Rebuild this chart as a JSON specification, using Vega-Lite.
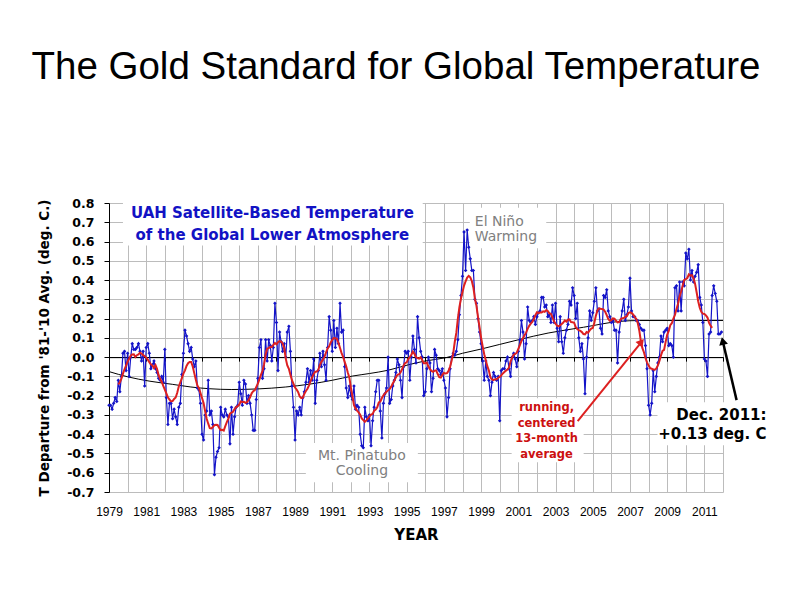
{
  "$schema": "https://vega.github.io/schema/vega-lite/v6.json",
  "width": 614,
  "height": 289,
  "autosize": "none",
  "padding": {"left": 109, "top": 203, "right": 71, "bottom": 103},
  "background": "white",
  "title": {"text": "The Gold Standard for Global Temperature", "font": "Liberation Sans", "fontSize": 38.5, "fontWeight": "normal", "color": "black", "anchor": "middle", "frame": "group", "offset": 110, "dx": -20},
  "config": {"view": {"stroke": null}},
  "datasets": {
    "uah": [
      {"t":1979,"v":-0.25},{"t":1979.083,"v":-0.25},{"t":1979.167,"v":-0.27},{"t":1979.25,"v":-0.24},{"t":1979.333,"v":-0.21},{"t":1979.417,"v":-0.23},{"t":1979.5,"v":-0.12},{"t":1979.583,"v":-0.18},{"t":1979.667,"v":-0.10},{"t":1979.75,"v":0.02},{"t":1979.833,"v":0.03},{"t":1979.917,"v":-0.07},
      {"t":1980,"v":0.02},{"t":1980.083,"v":-0.10},{"t":1980.167,"v":0.00},{"t":1980.25,"v":0.07},{"t":1980.333,"v":0.04},{"t":1980.417,"v":0.04},{"t":1980.5,"v":0.05},{"t":1980.583,"v":0.07},{"t":1980.667,"v":0.03},{"t":1980.75,"v":-0.02},{"t":1980.833,"v":0.03},{"t":1980.917,"v":-0.15},
      {"t":1981,"v":0.05},{"t":1981.083,"v":0.07},{"t":1981.167,"v":0.02},{"t":1981.25,"v":-0.06},{"t":1981.333,"v":-0.04},{"t":1981.417,"v":-0.02},{"t":1981.5,"v":-0.06},{"t":1981.583,"v":-0.08},{"t":1981.667,"v":-0.11},{"t":1981.75,"v":-0.12},{"t":1981.833,"v":-0.10},{"t":1981.917,"v":-0.13},
      {"t":1982,"v":0.04},{"t":1982.083,"v":-0.21},{"t":1982.167,"v":-0.35},{"t":1982.25,"v":-0.24},{"t":1982.333,"v":-0.24},{"t":1982.417,"v":-0.32},{"t":1982.5,"v":-0.27},{"t":1982.583,"v":-0.31},{"t":1982.667,"v":-0.35},{"t":1982.75,"v":-0.26},{"t":1982.833,"v":-0.24},{"t":1982.917,"v":-0.09},
      {"t":1983,"v":0.02},{"t":1983.083,"v":0.14},{"t":1983.167,"v":0.11},{"t":1983.25,"v":0.07},{"t":1983.333,"v":0.03},{"t":1983.417,"v":0.05},{"t":1983.5,"v":-0.01},{"t":1983.583,"v":-0.05},{"t":1983.667,"v":-0.02},{"t":1983.75,"v":-0.16},{"t":1983.833,"v":-0.17},{"t":1983.917,"v":-0.24},
      {"t":1984,"v":-0.40},{"t":1984.083,"v":-0.43},{"t":1984.167,"v":-0.30},{"t":1984.25,"v":-0.28},{"t":1984.333,"v":-0.12},{"t":1984.417,"v":-0.30},{"t":1984.5,"v":-0.28},{"t":1984.583,"v":-0.35},{"t":1984.667,"v":-0.61},{"t":1984.75,"v":-0.52},{"t":1984.833,"v":-0.49},{"t":1984.917,"v":-0.47},
      {"t":1985,"v":-0.26},{"t":1985.083,"v":-0.30},{"t":1985.167,"v":-0.31},{"t":1985.25,"v":-0.27},{"t":1985.333,"v":-0.30},{"t":1985.417,"v":-0.31},{"t":1985.5,"v":-0.45},{"t":1985.583,"v":-0.26},{"t":1985.667,"v":-0.40},{"t":1985.75,"v":-0.31},{"t":1985.833,"v":-0.26},{"t":1985.917,"v":-0.25},
      {"t":1986,"v":-0.13},{"t":1986.083,"v":-0.19},{"t":1986.167,"v":-0.25},{"t":1986.25,"v":-0.12},{"t":1986.333,"v":-0.14},{"t":1986.417,"v":-0.24},{"t":1986.5,"v":-0.20},{"t":1986.583,"v":-0.24},{"t":1986.667,"v":-0.30},{"t":1986.75,"v":-0.38},{"t":1986.833,"v":-0.38},{"t":1986.917,"v":-0.22},
      {"t":1987,"v":-0.11},{"t":1987.083,"v":0.05},{"t":1987.167,"v":0.09},{"t":1987.25,"v":-0.11},{"t":1987.333,"v":-0.06},{"t":1987.417,"v":0.09},{"t":1987.5,"v":-0.02},{"t":1987.583,"v":0.09},{"t":1987.667,"v":0.06},{"t":1987.75,"v":-0.02},{"t":1987.833,"v":0.05},{"t":1987.917,"v":0.28},
      {"t":1988,"v":0.18},{"t":1988.083,"v":-0.07},{"t":1988.167,"v":0.13},{"t":1988.25,"v":0.08},{"t":1988.333,"v":0.03},{"t":1988.417,"v":0.07},{"t":1988.5,"v":0.00},{"t":1988.583,"v":0.13},{"t":1988.667,"v":0.16},{"t":1988.75,"v":0.03},{"t":1988.833,"v":-0.15},{"t":1988.917,"v":-0.26},
      {"t":1989,"v":-0.43},{"t":1989.083,"v":-0.28},{"t":1989.167,"v":-0.30},{"t":1989.25,"v":-0.26},{"t":1989.333,"v":-0.30},{"t":1989.417,"v":-0.21},{"t":1989.5,"v":-0.18},{"t":1989.583,"v":-0.13},{"t":1989.667,"v":-0.06},{"t":1989.75,"v":-0.13},{"t":1989.833,"v":-0.07},{"t":1989.917,"v":-0.12},
      {"t":1990,"v":-0.01},{"t":1990.083,"v":-0.24},{"t":1990.167,"v":-0.12},{"t":1990.25,"v":-0.07},{"t":1990.333,"v":0.02},{"t":1990.417,"v":-0.05},{"t":1990.5,"v":0.03},{"t":1990.583,"v":-0.04},{"t":1990.667,"v":-0.12},{"t":1990.75,"v":0.05},{"t":1990.833,"v":0.21},{"t":1990.917,"v":0.14},
      {"t":1991,"v":0.03},{"t":1991.083,"v":0.19},{"t":1991.167,"v":0.05},{"t":1991.25,"v":0.15},{"t":1991.333,"v":0.07},{"t":1991.417,"v":0.28},{"t":1991.5,"v":0.13},{"t":1991.583,"v":0.14},{"t":1991.667,"v":-0.05},{"t":1991.75,"v":-0.16},{"t":1991.833,"v":-0.21},{"t":1991.917,"v":-0.15},
      {"t":1992,"v":-0.20},{"t":1992.083,"v":-0.22},{"t":1992.167,"v":-0.15},{"t":1992.25,"v":-0.27},{"t":1992.333,"v":-0.25},{"t":1992.417,"v":-0.26},{"t":1992.5,"v":-0.40},{"t":1992.583,"v":-0.46},{"t":1992.667,"v":-0.47},{"t":1992.75,"v":-0.26},{"t":1992.833,"v":-0.31},{"t":1992.917,"v":-0.33},
      {"t":1993,"v":-0.30},{"t":1993.083,"v":-0.46},{"t":1993.167,"v":-0.33},{"t":1993.25,"v":-0.26},{"t":1993.333,"v":-0.18},{"t":1993.417,"v":-0.12},{"t":1993.5,"v":-0.12},{"t":1993.583,"v":-0.28},{"t":1993.667,"v":-0.42},{"t":1993.75,"v":-0.24},{"t":1993.833,"v":-0.19},{"t":1993.917,"v":-0.16},
      {"t":1994,"v":0.00},{"t":1994.083,"v":-0.24},{"t":1994.167,"v":-0.22},{"t":1994.25,"v":-0.15},{"t":1994.333,"v":-0.12},{"t":1994.417,"v":-0.08},{"t":1994.5,"v":-0.01},{"t":1994.583,"v":-0.04},{"t":1994.667,"v":-0.12},{"t":1994.75,"v":-0.21},{"t":1994.833,"v":-0.05},{"t":1994.917,"v":0.03},
      {"t":1995,"v":0.02},{"t":1995.083,"v":0.03},{"t":1995.167,"v":-0.12},{"t":1995.25,"v":0.00},{"t":1995.333,"v":0.11},{"t":1995.417,"v":0.04},{"t":1995.5,"v":-0.03},{"t":1995.583,"v":0.21},{"t":1995.667,"v":0.10},{"t":1995.75,"v":0.03},{"t":1995.833,"v":0.00},{"t":1995.917,"v":-0.20},
      {"t":1996,"v":-0.18},{"t":1996.083,"v":-0.06},{"t":1996.167,"v":0.00},{"t":1996.25,"v":-0.03},{"t":1996.333,"v":-0.18},{"t":1996.417,"v":-0.11},{"t":1996.5,"v":0.04},{"t":1996.583,"v":0.01},{"t":1996.667,"v":-0.06},{"t":1996.75,"v":-0.07},{"t":1996.833,"v":-0.09},{"t":1996.917,"v":-0.06},
      {"t":1997,"v":-0.12},{"t":1997.083,"v":-0.16},{"t":1997.167,"v":-0.31},{"t":1997.25,"v":-0.21},{"t":1997.333,"v":-0.06},{"t":1997.417,"v":0.00},{"t":1997.5,"v":0.02},{"t":1997.583,"v":0.01},{"t":1997.667,"v":0.03},{"t":1997.75,"v":0.09},{"t":1997.833,"v":0.22},{"t":1997.917,"v":0.32},
      {"t":1998,"v":0.42},{"t":1998.083,"v":0.65},{"t":1998.167,"v":0.45},{"t":1998.25,"v":0.66},{"t":1998.333,"v":0.57},{"t":1998.417,"v":0.51},{"t":1998.5,"v":0.45},{"t":1998.583,"v":0.45},{"t":1998.667,"v":0.30},{"t":1998.75,"v":0.28},{"t":1998.833,"v":0.20},{"t":1998.917,"v":0.13},
      {"t":1999,"v":0.07},{"t":1999.083,"v":-0.02},{"t":1999.167,"v":-0.12},{"t":1999.25,"v":-0.02},{"t":1999.333,"v":-0.10},{"t":1999.417,"v":-0.12},{"t":1999.5,"v":-0.20},{"t":1999.583,"v":-0.13},{"t":1999.667,"v":-0.08},{"t":1999.75,"v":-0.10},{"t":1999.833,"v":-0.12},{"t":1999.917,"v":-0.10},
      {"t":2000,"v":-0.33},{"t":2000.083,"v":-0.07},{"t":2000.167,"v":-0.06},{"t":2000.25,"v":-0.06},{"t":2000.333,"v":-0.02},{"t":2000.417,"v":0.00},{"t":2000.5,"v":-0.06},{"t":2000.583,"v":-0.10},{"t":2000.667,"v":0.00},{"t":2000.75,"v":0.02},{"t":2000.833,"v":-0.01},{"t":2000.917,"v":-0.05},
      {"t":2001,"v":0.03},{"t":2001.083,"v":0.09},{"t":2001.167,"v":0.19},{"t":2001.25,"v":0.13},{"t":2001.333,"v":-0.01},{"t":2001.417,"v":0.07},{"t":2001.5,"v":0.26},{"t":2001.583,"v":0.19},{"t":2001.667,"v":0.18},{"t":2001.75,"v":0.19},{"t":2001.833,"v":0.21},{"t":2001.917,"v":0.17},
      {"t":2002,"v":0.21},{"t":2002.083,"v":0.23},{"t":2002.167,"v":0.24},{"t":2002.25,"v":0.31},{"t":2002.333,"v":0.31},{"t":2002.417,"v":0.26},{"t":2002.5,"v":0.27},{"t":2002.583,"v":0.21},{"t":2002.667,"v":0.22},{"t":2002.75,"v":0.18},{"t":2002.833,"v":0.27},{"t":2002.917,"v":0.18},
      {"t":2003,"v":0.28},{"t":2003.083,"v":0.15},{"t":2003.167,"v":0.08},{"t":2003.25,"v":0.21},{"t":2003.333,"v":0.08},{"t":2003.417,"v":0.02},{"t":2003.5,"v":0.10},{"t":2003.583,"v":0.14},{"t":2003.667,"v":0.17},{"t":2003.75,"v":0.29},{"t":2003.833,"v":0.27},{"t":2003.917,"v":0.36},
      {"t":2004,"v":0.32},{"t":2004.083,"v":0.20},{"t":2004.167,"v":0.28},{"t":2004.25,"v":0.10},{"t":2004.333,"v":0.03},{"t":2004.417,"v":0.07},{"t":2004.5,"v":-0.01},{"t":2004.583,"v":-0.19},{"t":2004.667,"v":0.00},{"t":2004.75,"v":0.10},{"t":2004.833,"v":0.24},{"t":2004.917,"v":0.19},
      {"t":2005,"v":0.23},{"t":2005.083,"v":0.29},{"t":2005.167,"v":0.36},{"t":2005.25,"v":0.24},{"t":2005.333,"v":0.25},{"t":2005.417,"v":0.15},{"t":2005.5,"v":0.12},{"t":2005.583,"v":0.32},{"t":2005.667,"v":0.31},{"t":2005.75,"v":0.35},{"t":2005.833,"v":0.24},{"t":2005.917,"v":0.21},
      {"t":2006,"v":0.18},{"t":2006.083,"v":0.19},{"t":2006.167,"v":0.14},{"t":2006.25,"v":0.14},{"t":2006.333,"v":-0.03},{"t":2006.417,"v":0.13},{"t":2006.5,"v":0.19},{"t":2006.583,"v":0.24},{"t":2006.667,"v":0.30},{"t":2006.75,"v":0.19},{"t":2006.833,"v":0.22},{"t":2006.917,"v":0.26},
      {"t":2007,"v":0.41},{"t":2007.083,"v":0.24},{"t":2007.167,"v":0.21},{"t":2007.25,"v":0.21},{"t":2007.333,"v":0.19},{"t":2007.417,"v":0.19},{"t":2007.5,"v":0.17},{"t":2007.583,"v":0.15},{"t":2007.667,"v":0.14},{"t":2007.75,"v":0.14},{"t":2007.833,"v":0.06},{"t":2007.917,"v":-0.06},
      {"t":2008,"v":-0.25},{"t":2008.083,"v":-0.30},{"t":2008.167,"v":-0.24},{"t":2008.25,"v":-0.07},{"t":2008.333,"v":-0.18},{"t":2008.417,"v":-0.10},{"t":2008.5,"v":-0.03},{"t":2008.583,"v":0.00},{"t":2008.667,"v":0.11},{"t":2008.75,"v":0.08},{"t":2008.833,"v":0.13},{"t":2008.917,"v":0.14},
      {"t":2009,"v":0.15},{"t":2009.083,"v":0.06},{"t":2009.167,"v":0.07},{"t":2009.25,"v":0.06},{"t":2009.333,"v":0.00},{"t":2009.417,"v":0.36},{"t":2009.5,"v":0.37},{"t":2009.583,"v":0.24},{"t":2009.667,"v":0.39},{"t":2009.75,"v":0.24},{"t":2009.833,"v":0.39},{"t":2009.917,"v":0.37},
      {"t":2010,"v":0.54},{"t":2010.083,"v":0.51},{"t":2010.167,"v":0.56},{"t":2010.25,"v":0.40},{"t":2010.333,"v":0.45},{"t":2010.417,"v":0.39},{"t":2010.5,"v":0.42},{"t":2010.583,"v":0.44},{"t":2010.667,"v":0.48},{"t":2010.75,"v":0.31},{"t":2010.833,"v":0.27},{"t":2010.917,"v":0.18},
      {"t":2011,"v":-0.01},{"t":2011.083,"v":-0.02},{"t":2011.167,"v":-0.10},{"t":2011.25,"v":0.12},{"t":2011.333,"v":0.13},{"t":2011.417,"v":0.32},{"t":2011.5,"v":0.37},{"t":2011.583,"v":0.33},{"t":2011.667,"v":0.29},{"t":2011.75,"v":0.12},{"t":2011.833,"v":0.12},{"t":2011.917,"v":0.13}
    ],
    "trend": [
      {"t":1979,"v":-0.075},{"t":1980,"v":-0.102},{"t":1981.2,"v":-0.125},{"t":1982.4,"v":-0.141},{"t":1983.4,"v":-0.155},{"t":1984.4,"v":-0.164},{"t":1985.6,"v":-0.168},{"t":1987,"v":-0.165},{"t":1988.5,"v":-0.155},{"t":1989.8,"v":-0.14},{"t":1991,"v":-0.12},{"t":1992.1,"v":-0.098},{"t":1993,"v":-0.085},{"t":1994,"v":-0.068},{"t":1995.2,"v":-0.037},{"t":1996,"v":-0.02},{"t":1997.1,"v":-0.003},{"t":1998,"v":0.02},{"t":1999,"v":0.042},{"t":2000,"v":0.066},{"t":2001,"v":0.09},{"t":2002.6,"v":0.125},{"t":2004.5,"v":0.155},{"t":2006.5,"v":0.186},{"t":2007.5,"v":0.19},{"t":2012,"v":0.19}
    ]
  },
  "resolve": {"axis": {"x": "independent", "y": "independent"}},
  "layer": [
    {"data": {"values": [{}]}, "mark": {"type": "rect", "fill": "white"},
     "encoding": {"x": {"datum": 1979.75, "type": "quantitative", "scale": {"domain": [1979, 2012], "nice": false, "zero": false}, "axis": null}, "x2": {"datum": 1995.86},
                  "y": {"datum": 0.8, "type": "quantitative", "scale": {"domain": [-0.7, 0.8], "nice": false, "zero": false}, "axis": null}, "y2": {"datum": 0.58}}},
    {"data": {"values": [{}]}, "mark": {"type": "rect", "fill": "white"},
     "encoding": {"x": {"datum": 1998.39, "type": "quantitative", "scale": {"domain": [1979, 2012], "nice": false, "zero": false}, "axis": null}, "x2": {"datum": 2002.5},
                  "y": {"datum": 0.775, "type": "quantitative", "scale": {"domain": [-0.7, 0.8], "nice": false, "zero": false}, "axis": null}, "y2": {"datum": 0.565}}},
    {"data": {"values": [{}]}, "mark": {"type": "rect", "fill": "white"},
     "encoding": {"x": {"datum": 1989.58, "type": "quantitative", "scale": {"domain": [1979, 2012], "nice": false, "zero": false}, "axis": null}, "x2": {"datum": 1995.6},
                  "y": {"datum": -0.446, "type": "quantitative", "scale": {"domain": [-0.7, 0.8], "nice": false, "zero": false}, "axis": null}, "y2": {"datum": -0.649}}},
    {"data": {"values": [{}]}, "mark": {"type": "rect", "fill": "white"},
     "encoding": {"x": {"datum": 2000.64, "type": "quantitative", "scale": {"domain": [1979, 2012], "nice": false, "zero": false}, "axis": null}, "x2": {"datum": 2004.51},
                  "y": {"datum": -0.213, "type": "quantitative", "scale": {"domain": [-0.7, 0.8], "nice": false, "zero": false}, "axis": null}, "y2": {"datum": -0.545}}},
    {"data": {"values": [{}]}, "mark": {"type": "rect", "fill": "white"},
     "encoding": {"x": {"datum": 2008.48, "type": "quantitative", "scale": {"domain": [1979, 2012], "nice": false, "zero": false}, "axis": null}, "x2": {"datum": 2014.5},
                  "y": {"datum": -0.234, "type": "quantitative", "scale": {"domain": [-0.7, 0.8], "nice": false, "zero": false}, "axis": null}, "y2": {"datum": -0.457}}},
    {"data": {"name": "trend"},
     "mark": {"type": "line", "color": "black", "strokeWidth": 1, "interpolate": "monotone"},
     "encoding": {
       "x": {"field": "t", "type": "quantitative", "scale": {"domain": [1979, 2012], "nice": false, "zero": false},
             "axis": {"orient": "bottom", "values": [1979,1980,1981,1982,1983,1984,1985,1986,1987,1988,1989,1990,1991,1992,1993,1994,1995,1996,1997,1998,1999,2000,2001,2002,2003,2004,2005,2006,2007,2008,2009,2010,2011,2012],
                      "labelExpr": "datum.value % 2 == 1 && datum.value < 2012 ? '' + datum.value : ''",
                      "labelFont": "Liberation Sans", "labelFontSize": 12, "labelColor": "black", "labelPadding": 14, "labelFlush": false, "labelOverlap": false,
                      "domain": false, "ticks": false, "grid": true, "gridColor": "#bcbcbc",
                      "title": "YEAR", "titleFont": "DejaVu Sans", "titleFontSize": 15, "titleFontWeight": "bold", "titleColor": "black", "titlePadding": 10}},
       "y": {"field": "v", "type": "quantitative", "scale": {"domain": [-0.7, 0.8], "nice": false, "zero": false}, "axis": null}}},
    {"data": {"name": "uah"},
     "mark": {"type": "line", "color": "#1414c8", "strokeWidth": 1.2, "point": {"shape": "diamond", "size": 13, "filled": true, "color": "#1414c8"}},
     "encoding": {
       "x": {"field": "t", "type": "quantitative", "scale": {"domain": [1979, 2012], "nice": false, "zero": false},
             "axis": {"orient": "bottom", "offset": -134.87, "values": [1979,1980,1981,1982,1983,1984,1985,1986,1987,1988,1989,1990,1991,1992,1993,1994,1995,1996,1997,1998,1999,2000,2001,2002,2003,2004,2005,2006,2007,2008,2009,2010,2011,2012],
                      "labels": false, "grid": false, "domain": true, "domainColor": "black", "ticks": true, "tickColor": "black", "tickSize": 4, "title": null}},
       "y": {"field": "v", "type": "quantitative", "scale": {"domain": [-0.7, 0.8], "nice": false, "zero": false},
             "axis": {"orient": "left", "values": [-0.7,-0.6,-0.5,-0.4,-0.3,-0.2,-0.1,0,0.1,0.2,0.3,0.4,0.5,0.6,0.7,0.8],
                      "labelExpr": "replace(format(datum.value, '.1f'), '\u2212', '-')",
                      "labelFont": "DejaVu Sans", "labelFontSize": 12.5, "labelFontWeight": "bold", "labelColor": "black", "labelPadding": 10, "labelFlush": false, "labelOverlap": false,
                      "ticks": true, "tickSize": 5, "tickColor": "black", "domain": true, "domainColor": "black",
                      "grid": true, "gridColor": {"condition": {"test": "datum.value == 0", "value": "black"}, "value": "#bcbcbc"},
                      "title": "T Departure from '81-'10 Avg. (deg. C.)", "titleFont": "DejaVu Sans", "titleFontSize": 13.5, "titleFontWeight": "bold", "titleColor": "black", "titlePadding": 15}}}},
    {"data": {"name": "uah"},
     "transform": [
       {"window": [{"op": "mean", "field": "v", "as": "avg"}, {"op": "count", "as": "n"}], "frame": [-6, 6], "sort": [{"field": "t", "order": "ascending"}]},
       {"filter": "datum.n == 13"}
     ],
     "mark": {"type": "line", "color": "#dd2020", "strokeWidth": 2},
     "encoding": {
       "x": {"field": "t", "type": "quantitative", "scale": {"domain": [1979, 2012], "nice": false, "zero": false}, "axis": null},
       "y": {"field": "avg", "type": "quantitative", "scale": {"domain": [-0.7, 0.8], "nice": false, "zero": false}, "axis": null}}},
    {"data": {"values": [{}]},
     "mark": {"type": "text", "text": ["UAH Satellite-Based Temperature", "of the Global Lower Atmosphere"], "font": "DejaVu Sans", "fontSize": 15, "fontWeight": "bold", "color": "#1212c4", "align": "center", "baseline": "alphabetic", "lineHeight": 22},
     "encoding": {"x": {"datum": 1987.78, "type": "quantitative", "scale": {"domain": [1979, 2012], "nice": false, "zero": false}, "axis": null},
                  "y": {"datum": 0.7214, "type": "quantitative", "scale": {"domain": [-0.7, 0.8], "nice": false, "zero": false}, "axis": null}}},
    {"data": {"values": [{}]},
     "mark": {"type": "text", "text": ["El Niño", "Warming"], "font": "DejaVu Sans", "fontSize": 14, "color": "#808080", "align": "left", "baseline": "alphabetic", "lineHeight": 15},
     "encoding": {"x": {"datum": 1998.66, "type": "quantitative", "scale": {"domain": [1979, 2012], "nice": false, "zero": false}, "axis": null},
                  "y": {"datum": 0.68, "type": "quantitative", "scale": {"domain": [-0.7, 0.8], "nice": false, "zero": false}, "axis": null}}},
    {"data": {"values": [{}]},
     "mark": {"type": "text", "text": ["Mt. Pinatubo", "Cooling"], "font": "DejaVu Sans", "fontSize": 14, "color": "#808080", "align": "center", "baseline": "alphabetic", "lineHeight": 15},
     "encoding": {"x": {"datum": 1992.59, "type": "quantitative", "scale": {"domain": [1979, 2012], "nice": false, "zero": false}, "axis": null},
                  "y": {"datum": -0.5346, "type": "quantitative", "scale": {"domain": [-0.7, 0.8], "nice": false, "zero": false}, "axis": null}}},
    {"data": {"values": [{}]},
     "mark": {"type": "text", "text": ["running,", "centered", "13-month", "average"], "font": "DejaVu Sans", "fontSize": 11.5, "fontWeight": "bold", "color": "#cc1010", "align": "center", "baseline": "alphabetic", "lineHeight": 15.5},
     "encoding": {"x": {"datum": 2002.52, "type": "quantitative", "scale": {"domain": [1979, 2012], "nice": false, "zero": false}, "axis": null},
                  "y": {"datum": -0.28, "type": "quantitative", "scale": {"domain": [-0.7, 0.8], "nice": false, "zero": false}, "axis": null}}},
    {"data": {"values": [{}]},
     "mark": {"type": "text", "text": ["Dec. 2011:", "+0.13 deg. C"], "font": "DejaVu Sans", "fontSize": 15, "fontWeight": "bold", "color": "black", "align": "right", "baseline": "alphabetic", "lineHeight": 19},
     "encoding": {"x": {"datum": 2014.34, "type": "quantitative", "scale": {"domain": [1979, 2012], "nice": false, "zero": false}, "axis": null},
                  "y": {"datum": -0.327, "type": "quantitative", "scale": {"domain": [-0.7, 0.8], "nice": false, "zero": false}, "axis": null}}},
    {"data": {"values": [{}]},
     "mark": {"type": "rule", "color": "#dd2020", "strokeWidth": 2},
     "encoding": {"x": {"datum": 2004.19, "type": "quantitative", "scale": {"domain": [1979, 2012], "nice": false, "zero": false}, "axis": null}, "x2": {"datum": 2007.614},
                  "y": {"datum": -0.332, "type": "quantitative", "scale": {"domain": [-0.7, 0.8], "nice": false, "zero": false}, "axis": null}, "y2": {"datum": 0.0784}}},
    {"data": {"values": [{}]},
     "mark": {"type": "point", "shape": "triangle-up", "filled": true, "color": "#dd2020", "opacity": 1, "size": 80, "angle": 40},
     "encoding": {"x": {"datum": 2007.614, "type": "quantitative", "scale": {"domain": [1979, 2012], "nice": false, "zero": false}, "axis": null},
                  "y": {"datum": 0.0784, "type": "quantitative", "scale": {"domain": [-0.7, 0.8], "nice": false, "zero": false}, "axis": null}}},
    {"data": {"values": [{}]},
     "mark": {"type": "rule", "color": "black", "strokeWidth": 2.5},
     "encoding": {"x": {"datum": 2012.73, "type": "quantitative", "scale": {"domain": [1979, 2012], "nice": false, "zero": false}, "axis": null}, "x2": {"datum": 2011.986},
                  "y": {"datum": -0.223, "type": "quantitative", "scale": {"domain": [-0.7, 0.8], "nice": false, "zero": false}, "axis": null}, "y2": {"datum": 0.0836}}},
    {"data": {"values": [{}]},
     "mark": {"type": "point", "shape": "triangle-up", "filled": true, "color": "black", "opacity": 1, "size": 80, "angle": -13},
     "encoding": {"x": {"datum": 2011.986, "type": "quantitative", "scale": {"domain": [1979, 2012], "nice": false, "zero": false}, "axis": null},
                  "y": {"datum": 0.0836, "type": "quantitative", "scale": {"domain": [-0.7, 0.8], "nice": false, "zero": false}, "axis": null}}}
  ]
}
